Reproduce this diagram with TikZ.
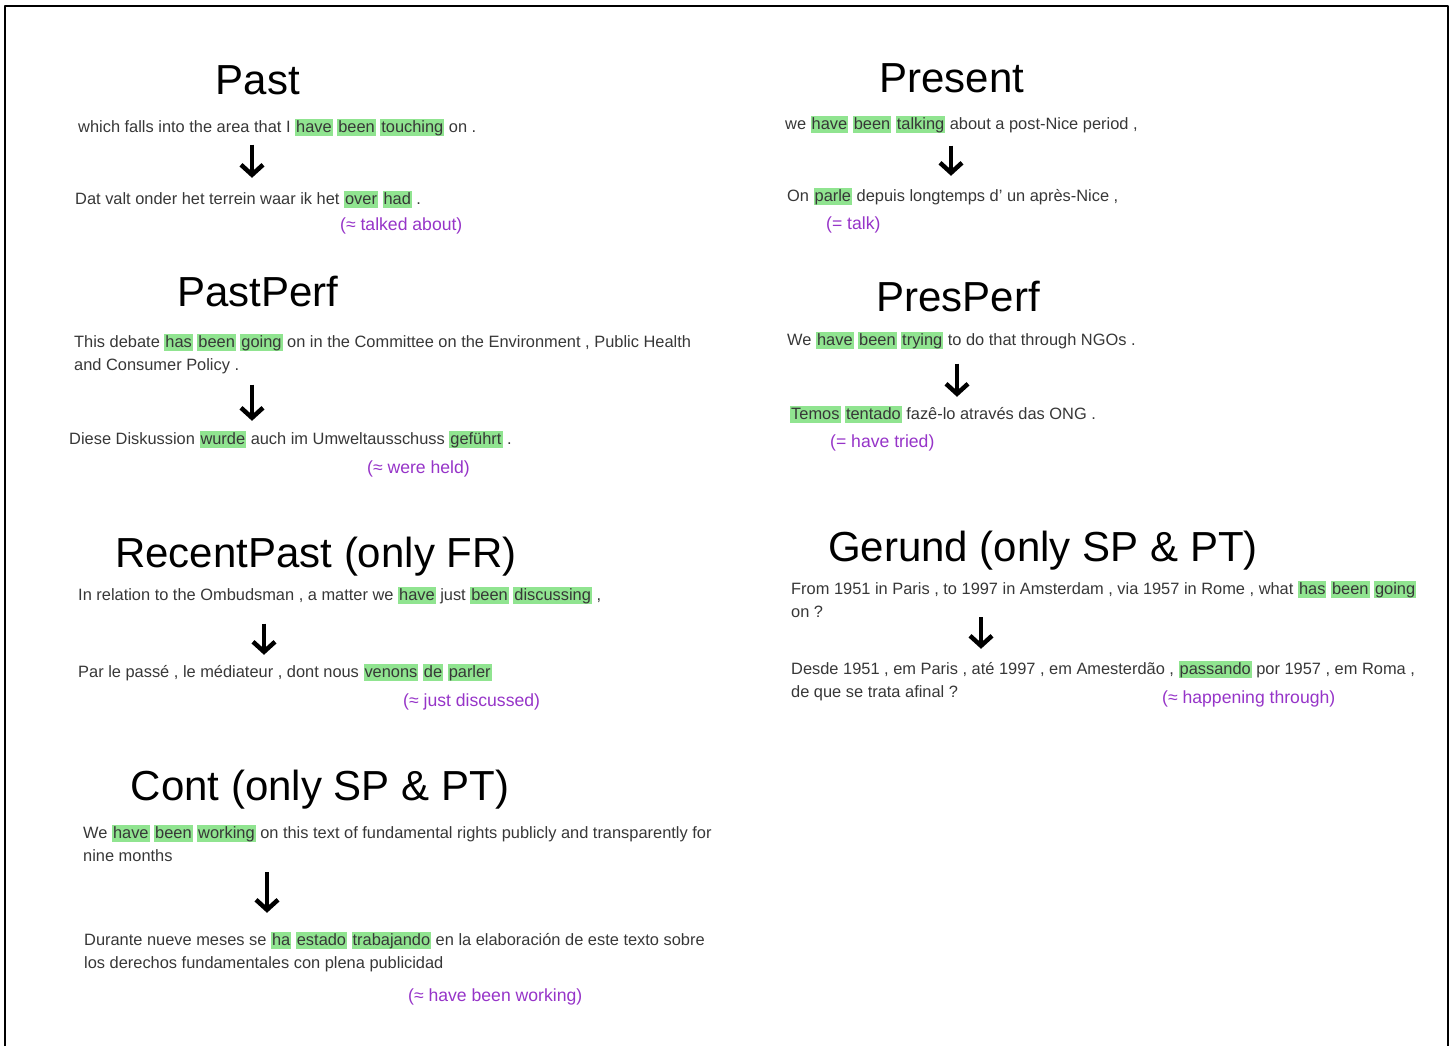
\documentclass[tikz,border=0pt]{standalone}
\usepackage{fontspec}
\setmainfont{Liberation Sans}
\usetikzlibrary{arrows.meta}
\definecolor{hlgreen}{RGB}{144,228,144}
\definecolor{glosspurple}{RGB}{150,52,200}
\definecolor{txtgray}{RGB}{55,55,55}
\newcommand{\hl}[1]{{\setlength{\fboxsep}{1pt}\colorbox{hlgreen}{\rule[-2.5pt]{0pt}{14.5pt}#1}}}
\begin{document}
\begin{tikzpicture}[x=1pt, y=-1pt, line join=round,
  heading/.style={anchor=base, inner sep=0pt, font=\fontsize{42}{50}\selectfont},
  sent/.style={anchor=base west, inner sep=0pt, align=left, text=txtgray, font=\fontsize{16.4}{23}\selectfont},
  gloss/.style={anchor=base west, inner sep=0pt, text=glosspurple, font=\fontsize{17.6}{20}\selectfont},
  trans/.style={line width=4.5pt, -{Straight Barb[length=10pt,width=22pt]}}]
  \useasboundingbox (0,0) rectangle (1455,1046);
  \draw[line width=2.5pt] (5,1046) -- (5,6) -- (1448,6) -- (1448,1046);
  % left column (two-line sentences sit on their last line)
  \node[heading] (pasthead) at (258,95) {Past};
  \node[sent] (pastsrc) at (78,132) {which falls into the area that I \hl{have} \hl{been} \hl{touching} on .};
  \node[sent] (pasttgt) at (75,204) {Dat valt onder het terrein waar ik het \hl{over} \hl{had} .};
  \node[gloss] (pastgloss) at (340,230) {(≈ talked about)};
  \node[heading] (ppfhead) at (258,306) {PastPerf};
  \node[sent] (ppfsrc) at (74,370) {This debate \hl{has} \hl{been} \hl{going} on in the Committee on the Environment , Public Health\\and Consumer Policy .};
  \node[sent] (ppftgt) at (69,444) {Diese Diskussion \hl{wurde} auch im Umweltausschuss \hl{geführt} .};
  \node[gloss] (ppfgloss) at (367,473) {(≈ were held)};
  \node[heading] (rphead) at (316,567) {RecentPast (only FR)};
  \node[sent] (rpsrc) at (78,600) {In relation to the Ombudsman , a matter we \hl{have} just \hl{been} \hl{discussing} ,};
  \node[sent] (rptgt) at (78,677) {Par le passé , le médiateur , dont nous \hl{venons} \hl{de} \hl{parler}};
  \node[gloss] (rpgloss) at (403,706) {(≈ just discussed)};
  \node[heading] (conthead) at (320,800) {Cont (only SP \& PT)};
  \node[sent] (contsrc) at (83,861) {We \hl{have} \hl{been} \hl{working} on this text of fundamental rights publicly and transparently for\\nine months};
  \node[sent] (conttgt) at (84,968) {Durante nueve meses se \hl{ha} \hl{estado} \hl{trabajando} en la elaboración de este texto sobre\\los derechos fundamentales con plena publicidad};
  \node[gloss] (contgloss) at (408,1001) {(≈ have been working)};
  % right column
  \node[heading] (preshead) at (952,93) {Present};
  \node[sent] (pressrc) at (785,129) {we \hl{have} \hl{been} \hl{talking} about a post-Nice period ,};
  \node[sent] (prestgt) at (787,201) {On \hl{parle} depuis longtemps d' un après-Nice ,};
  \node[gloss] (presgloss) at (826,229) {(= talk)};
  \node[heading] (prpfhead) at (958,311) {PresPerf};
  \node[sent] (prpfsrc) at (787,345) {We \hl{have} \hl{been} \hl{trying} to do that through NGOs .};
  \node[sent] (prpftgt) at (790,419) {\hl{Temos} \hl{tentado} fazê-lo através das ONG .};
  \node[gloss] (prpfgloss) at (830,447) {(= have tried)};
  \node[heading] (gerhead) at (1043,561) {Gerund (only SP \& PT)};
  \node[sent] (gersrc) at (791,617) {From 1951 in Paris , to 1997 in Amsterdam , via 1957 in Rome , what \hl{has} \hl{been} \hl{going}\\on ?};
  \node[sent] (gertgt) at (791,697) {Desde 1951 , em Paris , até 1997 , em Amesterdão , \hl{passando} por 1957 , em Roma ,\\de que se trata afinal ?};
  \node[gloss] (gergloss) at (1162,703) {(≈ happening through)};
  % translation arrows
  \foreach \s/\t/\x/\a/\b in {pastsrc/pasttgt/252/8/13, ppfsrc/ppftgt/252/11/10,
      rpsrc/rptgt/264/19/9, contsrc/conttgt/267/11/19, pressrc/prestgt/951/12/12,
      prpfsrc/prpftgt/957/14/9, gersrc/gertgt/981/0/12}
    \draw[trans, shorten <=\a pt, shorten >=\b pt] (\s.south -| \x,0) -- (\t.north -| \x,0);
\end{tikzpicture}
\end{document}
